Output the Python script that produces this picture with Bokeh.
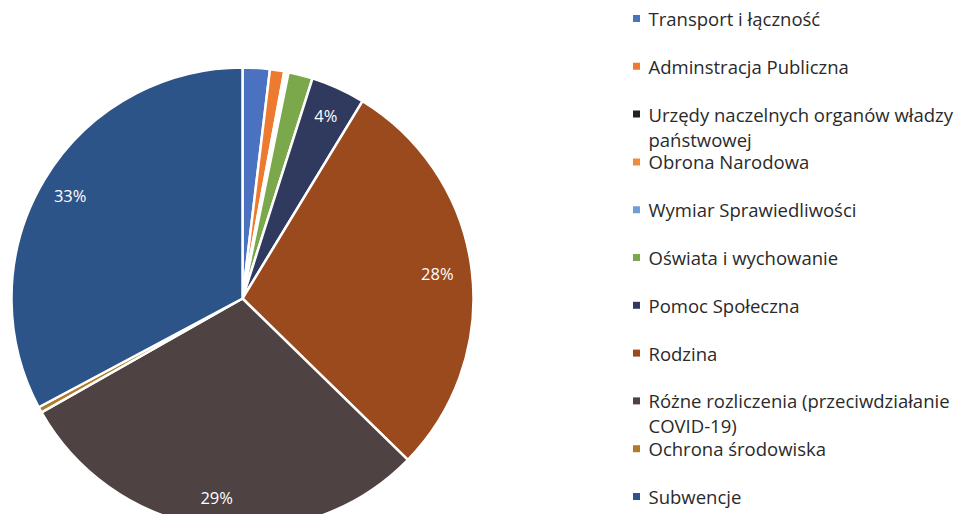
import numpy as np
from bokeh.plotting import figure
from bokeh.models import Range1d, ColumnDataSource
from bokeh.core.properties import value
from bokeh.embed import file_html
from bokeh.resources import INLINE

# ---- data ----
categories = [
    "Transport i łączność",
    "Adminstracja Publiczna",
    "Urzędy naczelnych organów władzy\npaństwowej",
    "Obrona Narodowa",
    "Wymiar Sprawiedliwości",
    "Oświata i wychowanie",
    "Pomoc Społeczna",
    "Rodzina",
    "Różne rozliczenia (przeciwdziałanie\nCOVID-19)",
    "Ochrona środowiska",
    "Subwencje",
]
shares = [1.9, 1.0, 0.1, 0.1, 0.1, 1.7, 3.8, 28.6, 29.5, 0.4, 32.8]
slice_labels = ["", "", "", "", "", "", "4%", "28%", "29%", "", "33%"]
colors = ["#4a72c0", "#ee7a30", "#222222", "#f08a3c", "#6f9fd8", "#7aa84a",
          "#2f3a5e", "#9a4a1c", "#4e4242", "#b07a2a", "#2d5489"]

W, H = 957, 514
p = figure(width=W, height=H, output_backend="svg", toolbar_location=None,
           x_range=Range1d(0, W), y_range=Range1d(-H, 0),
           min_border=0, tools="")
p.axis.visible = False
p.grid.visible = False
p.outline_line_color = None
p.background_fill_color = "white"

# pie geometry (y measured downward from the top -> negated)
cx, cy, r = 242, 298, 231
vals = np.array(shares, dtype=float)
frac = vals / vals.sum()
cum_end = np.cumsum(frac)
cum_start = cum_end - frac
start = np.pi / 2 - cum_start * 2 * np.pi
end = np.pi / 2 - cum_end * 2 * np.pi

src = ColumnDataSource(dict(start=start, end=end, color=colors))
p.wedge(x=cx, y=-cy, radius=r, start_angle="start", end_angle="end",
        direction="clock", fill_color="color", line_color="white",
        line_width=2.5, source=src)

# percentage labels
mid = (start + end) / 2
lab_r = [0, 0, 0, 0, 0, 0, 0.87, 0.85, 0.87, 0, 0.87]
lx, ly, lt = [], [], []
for i, t in enumerate(slice_labels):
    if t:
        lx.append(cx + r * lab_r[i] * np.cos(mid[i]))
        ly.append(-cy + r * lab_r[i] * np.sin(mid[i]))
        lt.append(t)
p.text(x=lx, y=ly, text=lt, text_color="white", text_font=value("Open Sans"),
       text_font_size="16.5px", text_align="center", text_baseline="middle")

# legend
leg_x, leg_y0, leg_dy = 636, 18, 47.8
mx, my = [], []
for i, c in enumerate(categories):
    mx.append(leg_x)
    my.append(-(leg_y0 + leg_dy * i))
p.scatter(x=mx, y=my, marker="square", size=7, fill_color=colors,
          line_color=None)
lines_x, lines_y, lines_t = [], [], []
for i, c in enumerate(categories):
    for k, part in enumerate(c.split("\n")):
        lines_x.append(leg_x + 12)
        lines_y.append(-(leg_y0 + leg_dy * i + 25 * k))
        lines_t.append(part)
p.text(x=lines_x, y=lines_y, text=lines_t, text_color="#2a2a2a",
       text_font=value("Open Sans"), text_font_size="18.5px",
       text_align="left", text_baseline="middle")

open("out.html", "w").write(file_html(p, INLINE))
